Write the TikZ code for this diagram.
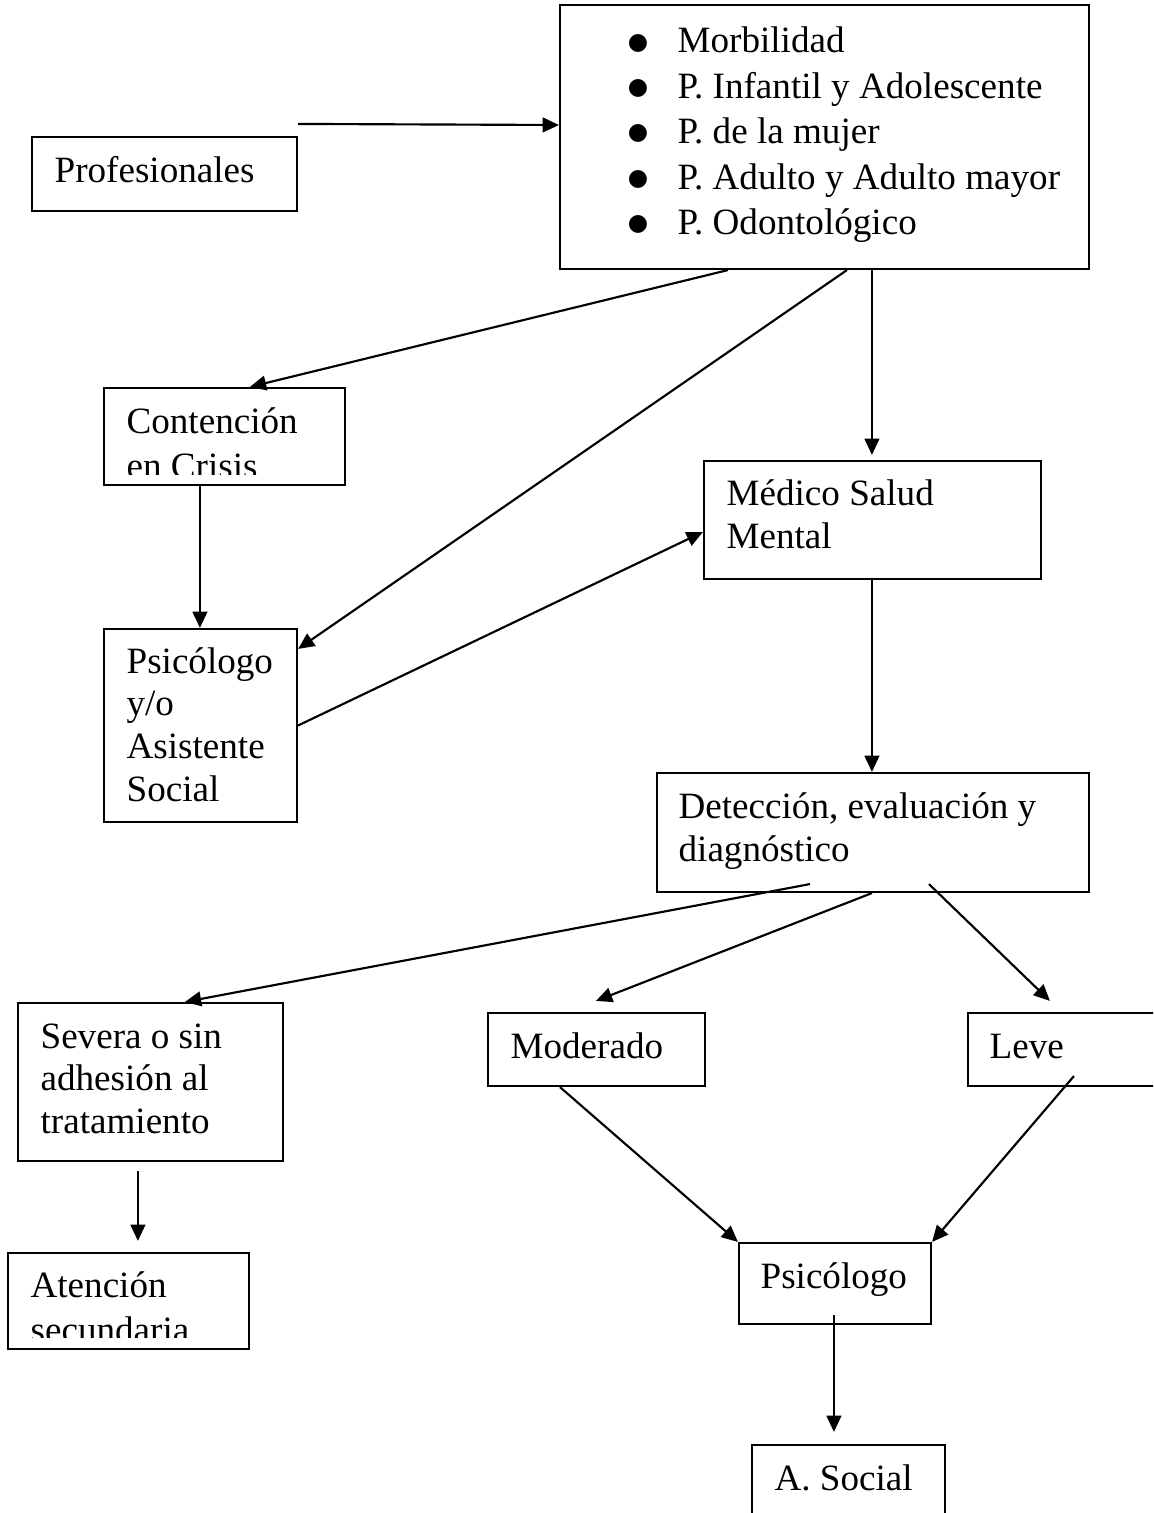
\documentclass[tikz,border=0pt]{standalone}
\usepackage{fontspec}
\setmainfont{Liberation Serif}
\newfontfamily\symf{DejaVu Sans}
\usetikzlibrary{arrows.meta,fit}
\newdimen\ux \ux=0.326pt
\newcommand\ml[1]{\begin{tabular}[t]{@{}l@{}}#1\end{tabular}}
\begin{document}
\begin{tikzpicture}[x=0.326pt,y=-0.326pt,
  box/.style={draw,line width=0.7pt,inner sep=0pt},
  txt/.style={anchor=base west,inner sep=0pt,font=\fontsize{12.1}{#1}\selectfont},
  txt/.default={14.2pt},
  bul/.style={anchor=center,inner sep=0pt,font=\symf\fontsize{7.6}{7.6}\selectfont},
  arr/.style={line width=0.7pt,-{Triangle[length=5.3pt,width=4.8pt]}}]
\path[use as bounding box,clip] (0,0) rectangle (1153,1513);
\fill[white] (0,0) rectangle (1153,1513);

% boxes
\node[box,fit={(560,5) (1089,269)}] (top) {};
\node[box,fit={(32,137) (297,211)}] (prof) {};
\node[box,fit={(104,388) (345,485)}] (cont) {};
\node[box,fit={(704,461) (1041,579)}] (med) {};
\node[box,fit={(104,629) (297,822)}] (psicA) {};
\node[box,fit={(657,773) (1089,892)}] (det) {};
\node[box,fit={(18,1003) (283,1161)}] (sev) {};
\node[box,fit={(488,1013) (705,1086)}] (mod) {};
\node[box,fit={(968,1013) (1175,1086)}] (leve) {};
\node[box,fit={(8,1253) (249,1349)}] (atn) {};
\node[box,fit={(739,1243) (931,1324)}] (psicB) {};
\node[box,fit={(752,1445) (945,1540)}] (asoc) {};

% texts
\node[txt] (tprof) at (54,182) {Profesionales};
\node[txt=14.8pt] (ttop) at (677,53) {\ml{Morbilidad\\P. Infantil y Adolescente\\P. de la mujer\\P. Adulto y Adulto mayor\\P. Odontológico}};
\foreach \i/\yy in {1/53,2/98.4,3/143.8,4/189.2,5/234.6}
  \node[bul] (bul\i) at (638,\yy-10) {●};
\begin{scope}
  \clip (104,388) rectangle (345,474);
  \node[txt=14.8pt] (tcont) at (126,433) {\ml{Contención\\en Crisis}};
\end{scope}
\node[txt=14.3pt] (tmed) at (726,505) {\ml{Médico Salud\\Mental}};
\node[txt=14.0pt] (tpsicA) at (126,673) {\ml{Psicólogo\\y/o\\Asistente\\Social}};
\node[txt=14.3pt] (tdet) at (678,818) {\ml{Detección, evaluación y\\diagnóstico}};
\node[txt=14.0pt] (tsev) at (40,1048) {\ml{Severa o sin\\adhesión al\\tratamiento}};
\node[txt] (tmod) at (510,1058) {Moderado};
\node[txt] (tleve) at (989,1058) {Leve};
\begin{scope}
  \clip (8,1253) rectangle (249,1337);
  \node[txt=14.8pt] (tatn) at (30,1297) {\ml{Atención\\secundaria}};
\end{scope}
\node[txt] (tpsicB) at (760,1288) {Psicólogo};
\node[txt] (tasoc) at (774,1490) {A. Social};

% connectors
\draw[arr] ([yshift=12\ux]prof.north east) -- ([yshift=12\ux]top.west);
\draw[arr] ([xshift=169\ux]top.south west) -- ([xshift=147\ux]cont.north west);
\draw[arr] ([xshift=288\ux]top.south west) -- ([yshift=-21\ux]psicA.north east);
\draw[arr] ([xshift=313\ux]top.south west) -- ([xshift=169\ux,yshift=5\ux]med.north west);
\draw[arr] ([xshift=97\ux]cont.south west) -- ([xshift=97\ux]psicA.north west);
\draw[arr] (psicA.east) -- ([yshift=-12\ux]med.west);
\draw[arr] ([xshift=169\ux]med.south west) -- ([xshift=216\ux]det.north west);
\draw[arr] ([xshift=154\ux,yshift=9\ux]det.south west) -- ([xshift=168\ux]sev.north west);
\draw[arr] ([xshift=216\ux]det.south west) -- ([xshift=109\ux,yshift=11\ux]mod.north west);
\draw[arr] ([xshift=273\ux,yshift=9\ux]det.south west) -- ([xshift=83\ux,yshift=11\ux]leve.north west);
\draw[arr] ([xshift=73\ux]mod.south west) -- (psicB.north west);
\draw[arr] ([xshift=107\ux,yshift=11\ux]leve.south west) -- (psicB.north east);
\draw[arr] ([xshift=121\ux,yshift=-9\ux]sev.south west) -- ([xshift=131\ux,yshift=11\ux]atn.north west);
\draw[arr] ([xshift=96\ux,yshift=10\ux]psicB.south west) -- ([xshift=83\ux,yshift=12\ux]asoc.north west);
\end{tikzpicture}
\end{document}
